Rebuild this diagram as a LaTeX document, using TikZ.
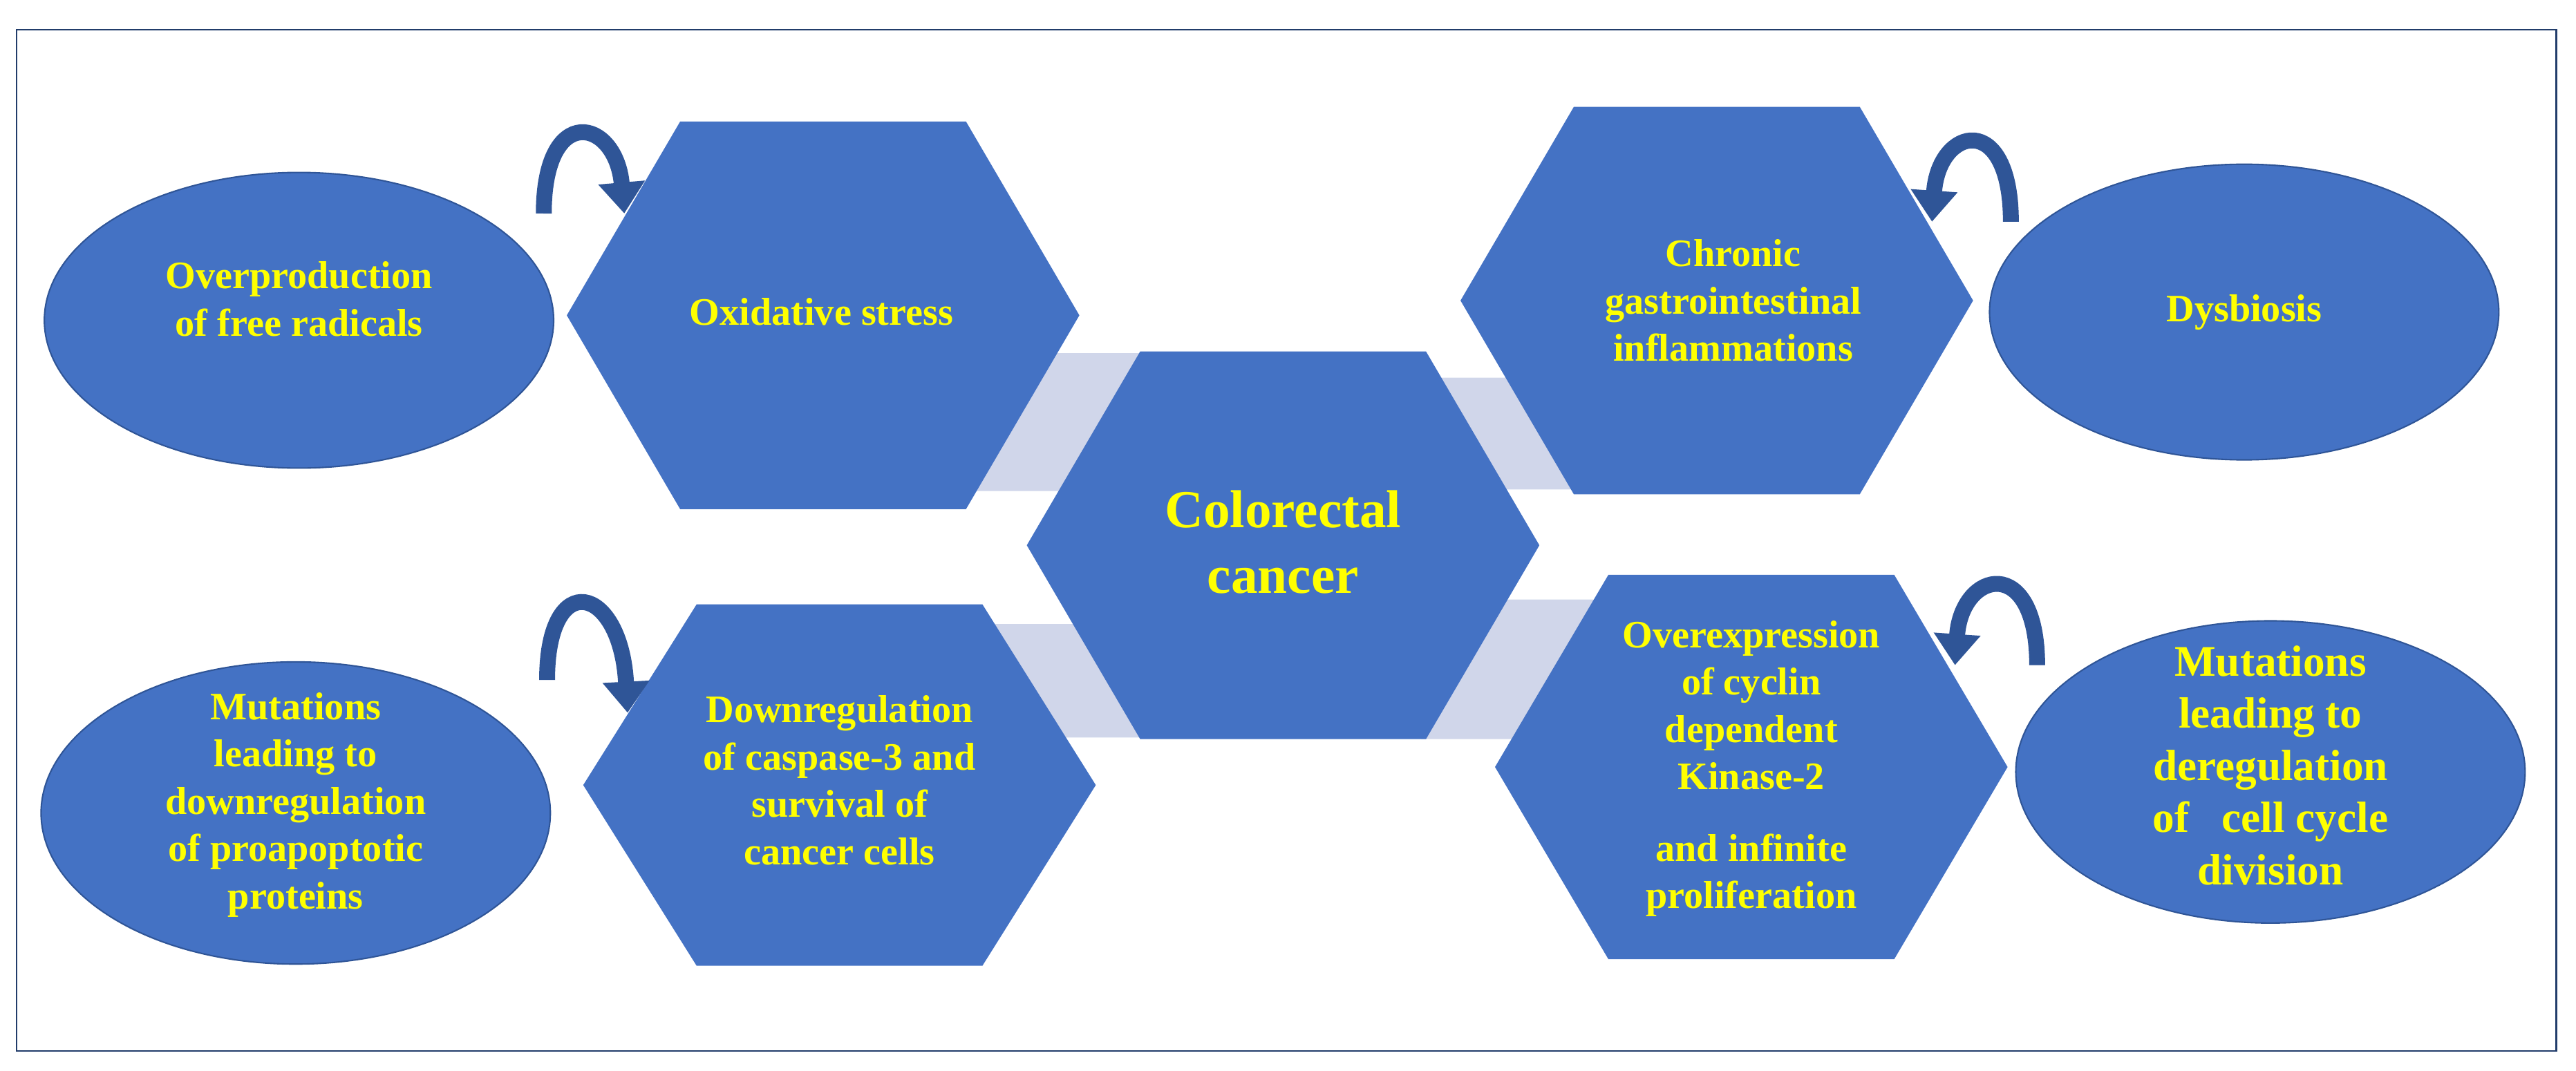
\documentclass[tikz,border=0pt]{standalone}
\usepackage{fontspec}
\setmainfont{Liberation Serif}
\usetikzlibrary{arrows.meta}
\definecolor{hexblue}{HTML}{4472C4}
\definecolor{edgeblue}{HTML}{2F5597}
\definecolor{lav}{HTML}{D0D6EA}
\definecolor{txt}{HTML}{FFFF00}
\begin{document}
\begin{tikzpicture}[x=0.02377cm,y=-0.02377cm,
  lbl/.style={text=txt,font=\bfseries\fontsize{16}{19.5}\selectfont,align=center},
  hexs/.style={fill=hexblue,draw=none},
  ell/.style={fill=hexblue,draw=edgeblue,line width=0.6pt},
  lavs/.style={fill=lav,draw=none},
  carrow/.style={draw=edgeblue,line width=2.3mm,-{Triangle[width=6.5mm,length=4.5mm]}}]
\useasboundingbox (0,0) rectangle (1568,652);
\draw[draw=edgeblue!70!black,line width=0.6pt] (10,18) rectangle (1556,640);
% lavender connectors
\fill[lavs] (590,299) -- (640,215) -- (700,215) -- (650,299) -- cycle;
\fill[lavs] (600,380) -- (660,380) -- (700,449) -- (645,449) -- cycle;
\fill[lavs] (875,230) -- (925,230) -- (965,298) -- (912,298) -- cycle;
\fill[lavs] (912,365) -- (972,365) -- (922,450) -- (865,450) -- cycle;
% hexagons
\newcommand{\myhex}[3]{\fill[hexs] (#1-156,#2) -- (#1-87,#2-#3) -- (#1+87,#2-#3) -- (#1+156,#2) -- (#1+87,#2+#3) -- (#1-87,#2+#3) -- cycle;}
\myhex{501}{192}{118}
\myhex{1045}{183}{118}
\myhex{781}{332}{118}
\myhex{511}{478}{110}
\myhex{1066}{467}{117}
% ellipses
\draw[ell] (182,195) ellipse [x radius=155, y radius=90];
\draw[ell] (1366,190) ellipse [x radius=155, y radius=90];
\draw[ell] (180,495) ellipse [x radius=155, y radius=92];
\draw[ell] (1382,470) ellipse [x radius=155, y radius=92];
% text nodes
\node[lbl] (ovp) at (182,182) {Overproduction\\of free radicals};
\node[lbl] (oxs) at (500,190) {Oxidative stress};
\node[lbl] (chr) at (1055,183) {Chronic\\gastrointestinal\\inflammations};
\node[lbl] (dys) at (1366,190) {Dysbiosis};
\node[lbl,font=\bfseries\fontsize{22}{27}\selectfont] (crc) at (781,330) {Colorectal\\cancer};
\node[lbl] (mut1) at (180,490) {Mutations\\leading to\\downregulation\\of proapoptotic\\proteins};
\node[lbl] (dwn) at (511,475) {Downregulation\\of caspase-3 and\\survival of\\cancer cells};
\node[lbl] (ove) at (1066,468) {Overexpression\\of cyclin\\dependent\\Kinase-2\\[10pt]and infinite\\proliferation};
\node[lbl,font=\bfseries\fontsize{18}{21.5}\selectfont] (mut2) at (1382,466) {Mutations\\leading to\\deregulation\\of \ \ cell cycle\\division};
% curved arrows
\coordinate (a1s) at (331,130); \coordinate (a1e) at (380,130);
\coordinate (a2s) at (333,414); \coordinate (a2e) at (382,434);
\coordinate (a3s) at (1224,135); \coordinate (a3e) at (1176,135);
\coordinate (a4s) at (1240,405); \coordinate (a4e) at (1190,405);
\draw[carrow] (a1s) .. controls (331,62) and (375,72) .. (a1e);
\draw[carrow] (a2s) .. controls (333,345) and (378,356) .. (a2e);
\draw[carrow] (a3s) .. controls (1224,67) and (1180,77) .. (a3e);
\draw[carrow] (a4s) .. controls (1240,337) and (1194,347) .. (a4e);
\end{tikzpicture}
\end{document}
